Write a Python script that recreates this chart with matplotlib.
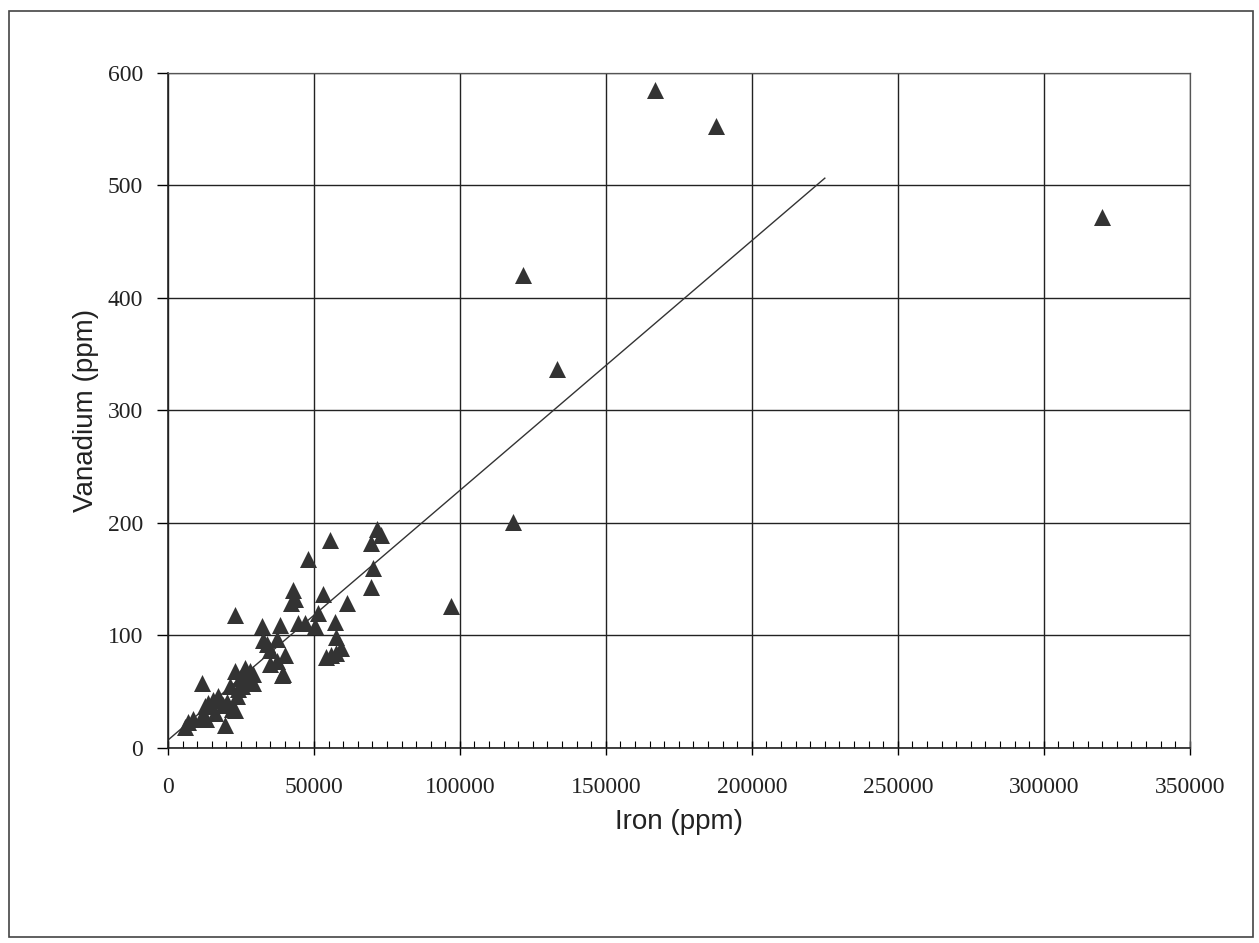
import numpy as np
import matplotlib
matplotlib.use("Agg")
import matplotlib.pyplot as plt
from matplotlib.patches import Rectangle
from matplotlib.ticker import MultipleLocator

# ==========================
# 数据
# ==========================

iron = [
    167000, 187700, 320000, 121600, 133200, 118200, 96900,
    71500, 73100, 69700, 55500, 48000, 70300, 69700,
    42900, 43500, 42300, 53200, 61200, 22900,
    32100, 38400, 44600, 46900, 51500, 50300, 57200, 57700,
    37200, 33800, 32600, 34900, 40100, 59400, 54300, 57700, 56000,
    34900, 37200, 39500, 38900, 22900, 29200, 24700, 29200, 27500,
    11500, 21200, 24100, 23500, 17200, 15500, 13800, 12700, 18900,
    20100, 21800, 22900, 16100, 11500, 13200, 19500, 7000, 5800,
    8700, 26400, 28100, 25200,
]

vanadium = [
    585, 553, 472, 420, 337, 201, 126,
    195, 189, 182, 185, 168, 160, 143,
    140, 132, 129, 137, 129, 118,
    108, 109, 111, 111, 120, 108, 112, 99,
    97, 92, 96, 87, 83, 89, 81, 84, 83,
    75, 77, 66, 65, 68, 66, 62, 58, 60,
    58, 55, 52, 46, 46, 43, 40, 37, 38,
    41, 35, 34, 31, 28, 26, 20, 23, 19,
    26, 71, 68, 55,
]

# 趋势线端点
fit_x = [0, 225000]
fit_intercept = 7
fit_slope = 0.00222

x_ticks = [0, 50000, 100000, 150000, 200000, 250000, 300000, 350000]
y_ticks = [0, 100, 200, 300, 400, 500, 600]

# ==========================
# 绘图
# ==========================

fig = plt.figure(figsize=(12.59, 9.43), dpi=100)
fig.patches.append(Rectangle((0.007, 0.006), 0.988, 0.982, transform=fig.transFigure,
                             fill=False, edgecolor="#444444", linewidth=1.2))

ax = fig.add_axes([0.1334, 0.2068, 0.8116, 0.7158])

ax.scatter(iron, vanadium, marker="^", s=150, color="#333333", zorder=3, linewidths=0)

fit_y = [fit_intercept + fit_slope * v for v in fit_x]
ax.plot(fit_x, fit_y, color="#333333", linewidth=1.0, zorder=2)

ax.set_xlim(0, 350000)
ax.set_ylim(0, 600)
ax.set_xticks(x_ticks)
ax.set_yticks(y_ticks)
ax.xaxis.set_minor_locator(MultipleLocator(5000))

ax.grid(True, which="major", color="#222222", linewidth=1.0)
ax.set_axisbelow(True)

for side in ["top", "right"]:
    ax.spines[side].set_color("#555555")
    ax.spines[side].set_linewidth(0.9)
for side in ["left", "bottom"]:
    ax.spines[side].set_color("#222222")
    ax.spines[side].set_linewidth(1.2)

ax.tick_params(axis="x", which="major", direction="inout", length=10, width=1.0, pad=16)
ax.tick_params(axis="x", which="minor", direction="in", length=5, width=0.8)
ax.tick_params(axis="y", which="major", direction="out", length=8, width=1.0, pad=10)

for lab in ax.get_xticklabels() + ax.get_yticklabels():
    lab.set_family("Liberation Serif")
    lab.set_fontsize(17)
    lab.set_color("#222222")

ax.set_xlabel("Iron (ppm)", family="Liberation Sans", fontsize=20, color="#222222", labelpad=8)
ax.set_ylabel("Vanadium (ppm)", family="Liberation Sans", fontsize=20, color="#222222", labelpad=6)

fig.savefig("out.png", dpi=100)
